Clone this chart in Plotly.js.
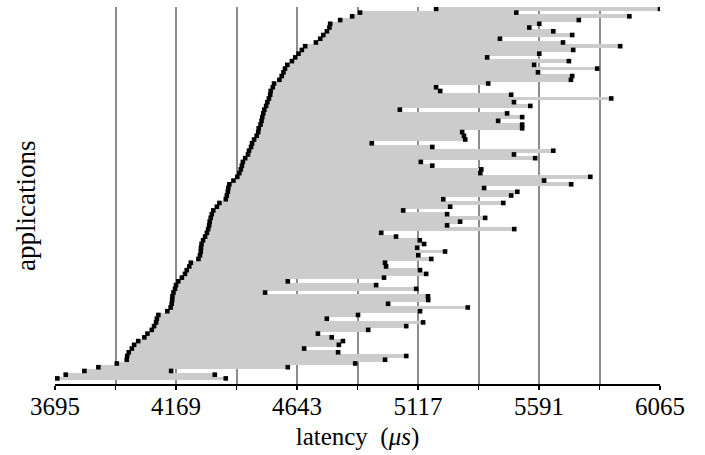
<!DOCTYPE html>
<html>
<head>
<meta charset="utf-8">
<script src="https://cdn.plot.ly/plotly-3.0.1.min.js"></script>
<style>html,body{margin:0;padding:0;background:#fff;}#chart{width:705px;height:455px;}</style>
</head>
<body>
<div id="chart"></div>
<script>
// applications listed top to bottom, latency in microseconds
const startLatency = [5188,4890,4859,4812,4773,4770,4760,4746,4734,4717,
4675,4662,4649,4636,4623,4605,4596,4590,4583,4574,
4553,4548,4540,4538,4533,4527,4522,4515,4511,4507,
4504,4500,4493,4491,4485,4475,4467,4463,4455,4451,
4440,4431,4427,4423,4417,4409,4394,4378,4374,4372,
4368,4364,4339,4329,4315,4309,4305,4301,4299,4295,
4290,4283,4275,4269,4267,4266,4263,4257,4227,4221,
4211,4204,4192,4178,4169,4165,4159,4155,4154,4152,
4148,4135,4100,4094,4091,4083,4074,4057,4045,4021,
4005,3996,3984,3978,3976,3937,3865,3810,3737,3704];

const endLatency = [6065,5502,5945,5747,5592,5553,5647,5721,5438,5685,
5909,5725,5592,5388,5708,5572,5819,5587,5721,5716,
5392,5188,5204,5482,5874,5493,5557,5046,5466,5525,
5431,5525,5525,5290,5297,5302,4936,5173,5647,5493,
5576,5128,5173,5365,5361,5792,5611,5717,5376,5506,
5482,5216,5451,5243,5059,5231,5380,5282,5231,5494,
4973,5031,5124,5141,5114,5223,5118,5169,4988,4992,
5125,5149,4984,4607,4953,5110,4518,5156,5157,5000,
5312,5125,4882,4760,5137,5071,4922,4725,4779,4823,
4807,4671,4804,5071,4988,4871,4607,4150,4321,4364];

const tickValues = [3695,3932,4169,4406,4643,4880,5117,5354,5591,5828,6065];
const tickLabels = ['3695','','4169','','4643','','5117','','5591','','6065'];
const xTitle = 'latency\u2002(<i>μs</i>)';
const yTitle = 'applications';

const n = startLatency.length;
const rowIndex = startLatency.map((_, i) => n - 1 - i);
const spans = startLatency.map((s, i) => endLatency[i] - s);

const bars = {
  type: 'bar', orientation: 'h',
  y: rowIndex, x: spans, base: startLatency,
  width: 1,
  marker: {color: '#cccccc', line: {width: 0}},
  hoverinfo: 'skip', showlegend: false
};
const pts = {
  type: 'scatter', mode: 'markers',
  x: startLatency.concat(endLatency),
  y: rowIndex.concat(rowIndex),
  marker: {symbol: 'square', size: 4.6, color: '#000000', line: {width: 0}},
  hoverinfo: 'skip', showlegend: false
};

const font = {family: 'Liberation Serif, Times New Roman, serif', size: 25, color: '#000'};

const layout = {
  width: 705, height: 455,
  margin: {l: 55, r: 45, t: 7, b: 71},
  paper_bgcolor: '#fff', plot_bgcolor: '#fff',
  font: font,
  bargap: 0,
  showlegend: false,
  xaxis: {
    range: [3695, 6065],
    tickmode: 'array', tickvals: tickValues, ticktext: tickLabels,
    showgrid: true, gridcolor: '#8c8c8c', gridwidth: 2,
    zeroline: false,
    showline: true, linecolor: '#000', linewidth: 2,
    ticks: 'outside', ticklen: 4, tickwidth: 1.5, tickcolor: '#000',
    ticklabelstandoff: -5,
    tickfont: font,
    title: {text: xTitle, font: font, standoff: 8}
  },
  yaxis: {
    range: [-1.5, 99.5],
    showgrid: false, zeroline: false, showline: false,
    showticklabels: false, ticks: ''
  },
  annotations: [{
    text: yTitle, textangle: -90,
    font: {family: font.family, size: 27, color: '#000'},
    xref: 'paper', yref: 'paper', x: -0.048, y: 0.472,
    xanchor: 'center', yanchor: 'middle', showarrow: false
  }]
};

Plotly.newPlot('chart', [bars, pts], layout, {displayModeBar: false, staticPlot: true});
</script>
</body>
</html>
